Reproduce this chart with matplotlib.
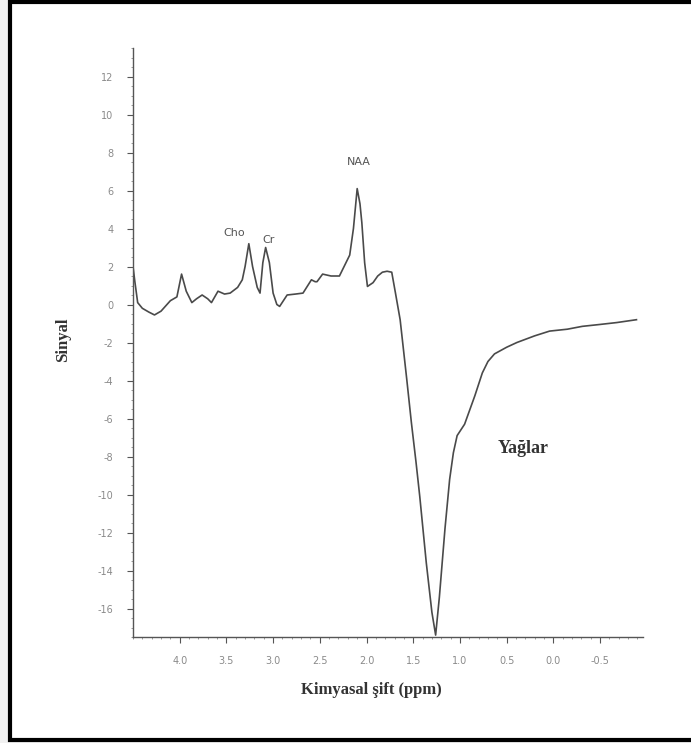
import matplotlib
matplotlib.use("Agg")
import matplotlib.pyplot as plt
from matplotlib.patches import Rectangle
from matplotlib.ticker import MultipleLocator
import numpy as np

# Spektrum değerleri
ppm = [4.50, 4.48, 4.45, 4.40, 4.33, 4.27, 4.20, 4.10, 4.03, 3.98, 3.93, 3.87,
       3.82, 3.76, 3.70, 3.66, 3.59, 3.52, 3.46, 3.38, 3.33, 3.30, 3.26, 3.22,
       3.17, 3.14, 3.11, 3.08, 3.04, 3.00, 2.96, 2.93, 2.85, 2.76, 2.68, 2.59,
       2.55, 2.53, 2.47, 2.38, 2.29, 2.22, 2.18, 2.14, 2.10, 2.07, 2.05, 2.02,
       1.99, 1.93, 1.88, 1.83, 1.78, 1.73, 1.69, 1.64, 1.57, 1.52, 1.47, 1.43,
       1.36, 1.30, 1.26, 1.22, 1.16, 1.11, 1.07, 1.03, 0.95, 0.84, 0.76, 0.70,
       0.63, 0.50, 0.39, 0.20, 0.04, -0.15, -0.31, -0.50, -0.68, -0.89]
signal = [2.0, 1.2, 0.1, -0.2, -0.4, -0.55, -0.35, 0.2, 0.4, 1.6, 0.7, 0.1,
          0.3, 0.5, 0.3, 0.1, 0.7, 0.55, 0.6, 0.9, 1.3, 2.0, 3.2, 2.0,
          0.9, 0.6, 2.2, 3.0, 2.2, 0.6, 0.0, -0.1, 0.5, 0.55, 0.6, 1.3,
          1.2, 1.2, 1.6, 1.5, 1.5, 2.2, 2.6, 4.0, 6.1, 5.3, 4.3, 2.2,
          0.95, 1.15, 1.5, 1.7, 1.75, 1.7, 0.6, -0.8, -3.9, -6.2, -8.3, -10.1,
          -13.6, -16.2, -17.4, -15.4, -11.8, -9.2, -7.8, -6.9, -6.3, -4.8, -3.6, -3.0,
          -2.6, -2.25, -2.0, -1.65, -1.4, -1.3, -1.15, -1.05, -0.95, -0.8]

peak_labels = ["Cho", "Cr", "NAA"]
peak_ppm = [3.42, 3.05, 2.08]
peak_y = [3.75, 3.4, 7.5]

x_ticks = [4.0, 3.5, 3.0, 2.5, 2.0, 1.5, 1.0, 0.5, 0.0, -0.5]
y_ticks = [-16, -14, -12, -10, -8, -6, -4, -2, 0, 2, 4, 6, 8, 10, 12]

W, H = 691, 743
fig = plt.figure(figsize=(W / 100, H / 100), dpi=100, facecolor="#f1f1f1")

# çerçeve (sağ kenarı resmin dışında kalıyor)
fig.patches.append(Rectangle((10 / W, 1 - 740 / H), 690 / W, 738 / H,
                             transform=fig.transFigure, facecolor="white",
                             edgecolor="black", lw=3, zorder=-5))

ax = fig.add_axes([133 / W, 1 - 637 / H, 510 / W, 589 / H])
ax.patch.set_alpha(0)
ax.plot(ppm, signal, "-", color="#4a4a4a", lw=1.2)
ax.set_xlim(4.5, -0.96)
ax.set_ylim(-17.5, 13.5)

for s in ("top", "right"):
    ax.spines[s].set_visible(False)
for s in ("left", "bottom"):
    ax.spines[s].set_color("#555555")
    ax.spines[s].set_linewidth(1.0)

ax.set_xticks(x_ticks)
ax.set_xticklabels([f"{v:.1f}" for v in x_ticks])
ax.set_yticks(y_ticks)
ax.set_yticklabels([str(v) for v in y_ticks])
ax.yaxis.set_minor_locator(MultipleLocator(0.5))
ax.xaxis.set_minor_locator(MultipleLocator(0.1))
ax.tick_params(which="major", direction="out", length=4, width=0.8,
               color="#555555", labelsize=7, labelcolor="#8a8a8a", pad=10)
ax.tick_params(which="minor", direction="out", length=1.5, width=0.5,
               color="#777777")

for lab, px, py in zip(peak_labels, peak_ppm, peak_y):
    ax.text(px, py, lab, ha="center", va="center", fontsize=8,
            color="#555555", family="DejaVu Sans")

ax.text(0.32, -7.6, "Yağlar", ha="center", va="center", fontsize=13,
        fontweight="bold", color="#333333", family="Liberation Serif")

fig.text(63 / W, 1 - 340 / H, "Sinyal", rotation=90, ha="center", va="center",
         fontsize=12, fontweight="bold", color="#333333", family="Liberation Serif")
fig.text(371 / W, 1 - 690 / H, "Kimyasal şift (ppm)", ha="center", va="center",
         fontsize=12, fontweight="bold", color="#333333", family="Liberation Serif")

fig.savefig("out.png", dpi=100, facecolor=fig.get_facecolor())
